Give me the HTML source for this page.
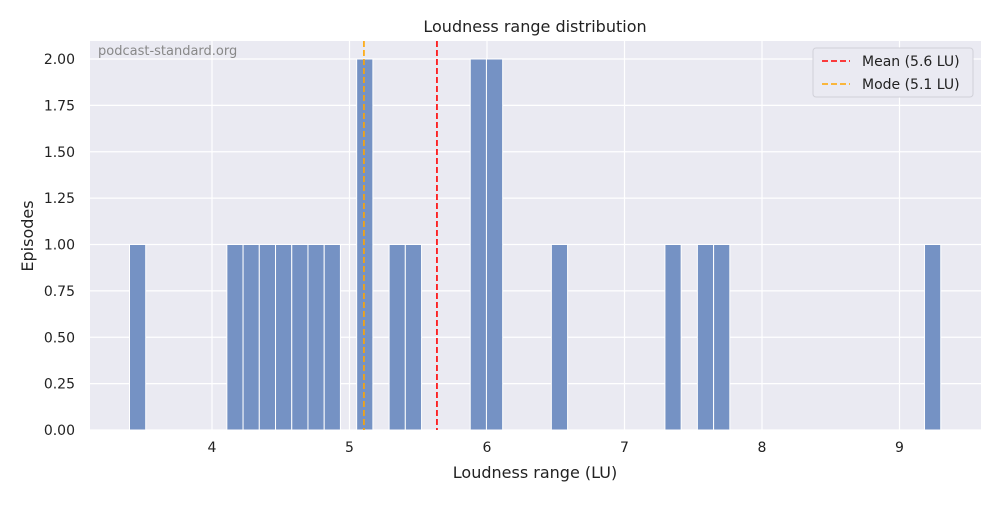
<!DOCTYPE html>
<html><head><meta charset="utf-8">
<style>
body{margin:0;background:#fff;font-family:"Liberation Sans","DejaVu Sans",sans-serif;}
svg text{font-family:"DejaVu Sans","Liberation Sans",sans-serif;}
</style></head>
<body>
<svg id="chart" width="1000" height="500" xmlns="http://www.w3.org/2000/svg">
<rect x="90" y="41" width="891" height="389" fill="#eaeaf2"/>
<g id="grid"></g>
<g id="bars"></g>
<g id="lines"></g>
<g id="ticks"></g>
<text x="535" y="32" text-anchor="middle" font-size="16" fill="#222">Loudness range distribution</text>
<text x="535" y="478" text-anchor="middle" font-size="16" fill="#222">Loudness range (LU)</text>
<text transform="translate(33,236) rotate(-90)" text-anchor="middle" font-size="16" fill="#222">Episodes</text>
<text x="98" y="55" font-size="13" fill="#888">podcast-standard.org</text>
<g>
<rect x="813" y="48" width="160" height="49" rx="3" fill="#eaeaf2" stroke="#d0d0d8"/>
<line x1="822" y1="61" x2="850" y2="61" stroke="red" stroke-width="1.6" stroke-dasharray="6,3"/>
<text x="862" y="66" font-size="14" fill="#222">Mean (5.6 LU)</text>
<line x1="822" y1="84" x2="850" y2="84" stroke="orange" stroke-width="1.6" stroke-dasharray="6,3"/>
<text x="862" y="89" font-size="14" fill="#222">Mode (5.1 LU)</text>
</g>
</svg>
<script>
const binStart = 3.40;
const binWidth = 0.118;
const counts = [1,0,0,0,0,0,1,1,1,1,1,1,1,0,2,0,1,1,0,0,0,2,2,0,0,0,1,0,0,0,0,0,0,1,0,1,1,0,0,0,0,0,0,0,0,0,0,0,0,1];
const xTicks = [4,5,6,7,8,9];
const yTicks = [0,0.25,0.5,0.75,1.0,1.25,1.5,1.75,2.0];
const meanVal = 5.636;
const modeVal = 5.105;
const NS="http://www.w3.org/2000/svg";
const X0=90,X1=981,Y0=430,Y1=41;
function xs(v){return 212+(v-4)*137.5;}
function ys(v){return 430-v*185.5;}
function mk(tag,attrs,parent){const e=document.createElementNS(NS,tag);for(const k in attrs)e.setAttribute(k,attrs[k]);parent.appendChild(e);return e;}
const grid=document.getElementById('grid'),ticks=document.getElementById('ticks'),bars=document.getElementById('bars'),lines=document.getElementById('lines');
xTicks.forEach(t=>{
 const l=mk('line',{x1:xs(t),x2:xs(t),y1:Y1,y2:Y0,stroke:'#fff','stroke-width':1.2},grid);
 
 
 const tx=mk('text',{x:xs(t),y:452,'text-anchor':'middle','font-size':14,fill:'#222'},ticks);
 tx.textContent=t;
 
 
});
yTicks.forEach(t=>{
 const l=mk('line',{x1:X0,x2:X1,y1:ys(t),y2:ys(t),stroke:'#fff','stroke-width':1.2},grid);
 
 
 const tx=mk('text',{x:75,y:ys(t)+5,'text-anchor':'end','font-size':14,fill:'#222'},ticks);
 tx.textContent=t.toFixed(2);
 
 
});
counts.forEach((c,i)=>{
 if(!c)return;
 const a=xs(binStart+i*binWidth),b=xs(binStart+(i+1)*binWidth);
 const r=mk('rect',{x:a,y:ys(c),width:b-a,height:Y0-ys(c),fill:'#7592c4',stroke:'#fff','stroke-width':1},bars);
 
 
});
const ml=mk('line',{x1:xs(meanVal),x2:xs(meanVal),y1:Y1,y2:Y0,stroke:'red','stroke-width':1.6,'stroke-dasharray':'6,3'},lines);


const mo=mk('line',{x1:xs(modeVal),x2:xs(modeVal),y1:Y1,y2:Y0,stroke:'orange','stroke-width':1.6,'stroke-dasharray':'6,3'},lines);


</script>
</body></html>
